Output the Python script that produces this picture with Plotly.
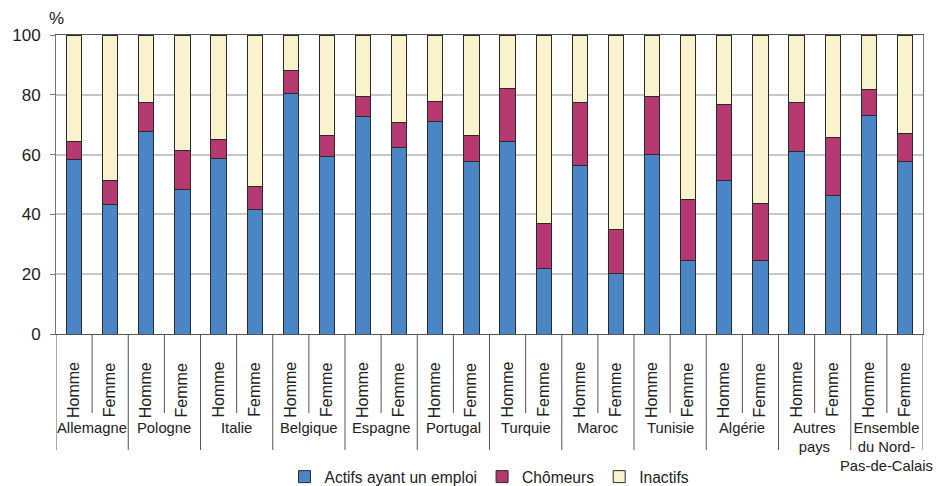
import plotly.graph_objects as go

countries = ["Allemagne", "Pologne", "Italie", "Belgique", "Espagne", "Portugal",
             "Turquie", "Maroc", "Tunisie", "Algérie", "Autres<br>pays",
             "Ensemble<br>du Nord-<br>Pas-de-Calais"]
sexes = ["Homme", "Femme"]

actifs = [58.2, 43.4, 67.8, 48.2, 58.8, 41.7, 80.5, 59.4, 72.6, 62.4, 71.0, 57.7,
          64.4, 21.8, 56.2, 20.1, 60.1, 24.7, 51.2, 24.7, 61.1, 46.3, 73.0, 57.7]
chomeurs = [6.2, 8.1, 9.5, 13.2, 6.3, 7.7, 7.5, 7.0, 7.0, 8.4, 6.6, 8.7,
            17.8, 15.2, 21.1, 14.9, 19.2, 20.2, 25.7, 19.0, 16.2, 19.5, 8.9, 9.4]
inactifs = [35.6, 48.5, 22.7, 38.6, 34.9, 50.6, 12.0, 33.6, 20.4, 29.2, 22.4, 33.6,
            17.8, 63.0, 22.7, 65.0, 20.7, 55.1, 23.1, 56.3, 22.7, 34.2, 18.1, 32.9]

series = [("Actifs ayant un emploi", actifs, "#4a86c6"),
          ("Chômeurs", chomeurs, "#b5386f"),
          ("Inactifs", inactifs, "#f8f3cc")]

n = len(countries) * len(sexes)
xs = list(range(n))
FONT = "Liberation Sans, Arial, sans-serif"
TXT = "#222222"

fig = go.Figure()
for name, vals, col in series:
    fig.add_trace(go.Bar(x=xs, y=vals, name=name, width=0.42,
                         marker=dict(color=col, line=dict(color="#2a2a2a", width=1))))

H_PLOT = 299.0
def py(pix):  # pixel offset below plot bottom -> paper y
    return -pix / H_PLOT

shapes = []
ann = []
# separators
for i in range(n + 1):
    xb = i - 0.5
    is_group = (i % 2 == 0)
    shapes.append(dict(type="line", xref="x", yref="paper", x0=xb, x1=xb,
                       y0=0, y1=py(116 if is_group else 79),
                       line=dict(color="#555555", width=1)))
# Homme / Femme labels
for i in range(n):
    ann.append(dict(x=i, y=py(56), xref="x", yref="paper", text=sexes[i % 2],
                    textangle=-90, showarrow=False, xanchor="center", yanchor="middle",
                    font=dict(family=FONT, size=16, color=TXT)))
# group labels
for g, c in enumerate(countries):
    ann.append(dict(x=2 * g + 0.5, y=py(84), xref="x", yref="paper",
                    text=c, showarrow=False, xanchor="center", yanchor="top",
                    font=dict(family=FONT, size=14.8, color=TXT)))
# % label
ann.append(dict(x=0, y=1 + 17 / H_PLOT, xref="paper", yref="paper", text="%",
                showarrow=False, xanchor="center", yanchor="middle",
                font=dict(family=FONT, size=17, color=TXT)))

fig.update_layout(
    barmode="stack",
    width=948, height=486,
    margin=dict(l=48, r=33, t=27, b=160, autoexpand=False),
    plot_bgcolor="white", paper_bgcolor="white",
    font=dict(family=FONT, size=15, color=TXT),
    shapes=shapes, annotations=ann,
    showlegend=True,
    legend=dict(orientation="h", x=0.5, xanchor="center", y=py(143), yanchor="middle",
                font=dict(family=FONT, size=15.6, color=TXT), itemwidth=30,
                traceorder="normal"),
    xaxis=dict(range=[-0.5, n - 0.5], showticklabels=False, showgrid=False,
               zeroline=False, showline=True, linecolor="#555555", mirror=True,
               ticks="", automargin=False),
    yaxis=dict(range=[0, 100], tickvals=[0, 20, 40, 60, 80, 100], showgrid=True,
               gridcolor="#c8c8c8", gridwidth=1.5, zeroline=False, showline=True,
               linecolor="#777777", mirror=True, ticks="outside", ticklen=5,
               tickcolor="#777777", ticklabelstandoff=6, automargin=False,
               tickfont=dict(family=FONT, size=17, color=TXT)),
)

fig.write_html("out.html")
